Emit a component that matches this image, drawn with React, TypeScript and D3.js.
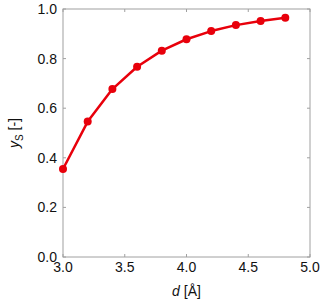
import React from "react";
import * as d3 from "d3";

const dValues = [3.0, 3.2, 3.4, 3.6, 3.8, 4.0, 4.2, 4.4, 4.6, 4.8];
const ysValues = [0.355, 0.546, 0.677, 0.767, 0.832, 0.878, 0.911, 0.935, 0.952, 0.965];
const xTicks = [3.0, 3.5, 4.0, 4.5, 5.0];
const yTicks = [0.0, 0.2, 0.4, 0.6, 0.8, 1.0];

const W = 323;
const H = 302;
const left = 63;
const right = 310;
const top = 9;
const bottom = 257;

export default function App() {
  const x = d3.scaleLinear().domain([3, 5]).range([left, right]);
  const y = d3.scaleLinear().domain([0, 1]).range([bottom, top]);

  const line = d3
    .line<number>()
    .x((_, i) => x(dValues[i]))
    .y((d) => y(d));

  const font = "'Liberation Sans', Arial, sans-serif";
  const axisColor = "#a0a0a0";
  const red = "#e8000b";

  return (
    <svg
      width={W}
      height={H}
      style={{ position: "absolute", left: 0, top: 0 }}
      fontFamily={font}
    >
      <rect x={0} y={0} width={W} height={H} fill="white" />
      {/* frame */}
      <rect
        x={left}
        y={top}
        width={right - left}
        height={bottom - top}
        fill="none"
        stroke={axisColor}
        strokeWidth={1}
      />
      {/* x ticks */}
      {xTicks.map((t) => (
        <g key={"x" + t}>
          <line x1={x(t)} x2={x(t)} y1={bottom} y2={bottom - 3} stroke={axisColor} />
          <line x1={x(t)} x2={x(t)} y1={top} y2={top + 3} stroke={axisColor} />
          <text
            x={x(t)}
            y={bottom + 15}
            textAnchor="middle"
            fontSize={14}
            fill="#111"
          >
            {t.toFixed(1)}
          </text>
        </g>
      ))}
      {/* y ticks */}
      {yTicks.map((t) => (
        <g key={"y" + t}>
          <line x1={left} x2={left + 3} y1={y(t)} y2={y(t)} stroke={axisColor} />
          <line x1={right} x2={right - 3} y1={y(t)} y2={y(t)} stroke={axisColor} />
          <text
            x={left - 6}
            y={y(t)}
            dy="0.36em"
            textAnchor="end"
            fontSize={14}
            fill="#111"
          >
            {t.toFixed(1)}
          </text>
        </g>
      ))}
      {/* axis titles */}
      <text x={(left + right) / 2} y={296} textAnchor="middle" fontSize={14} fill="#111">
        <tspan fontStyle="italic">d</tspan>
        <tspan> [Å]</tspan>
      </text>
      <text
        transform={`translate(19,${(top + bottom) / 2}) rotate(-90)`}
        textAnchor="middle"
        fontSize={14}
        fill="#111"
      >
        <tspan fontStyle="italic">y</tspan>
        <tspan fontSize={10} dy={4}>S</tspan>
        <tspan dy={-4}> [-]</tspan>
      </text>
      {/* series */}
      <path d={line(ysValues) || ""} fill="none" stroke={red} strokeWidth={2.5} strokeLinejoin="round" />
      {ysValues.map((v, i) => (
        <circle key={i} cx={x(dValues[i])} cy={y(v)} r={4} fill={red} />
      ))}
    </svg>
  );
}
